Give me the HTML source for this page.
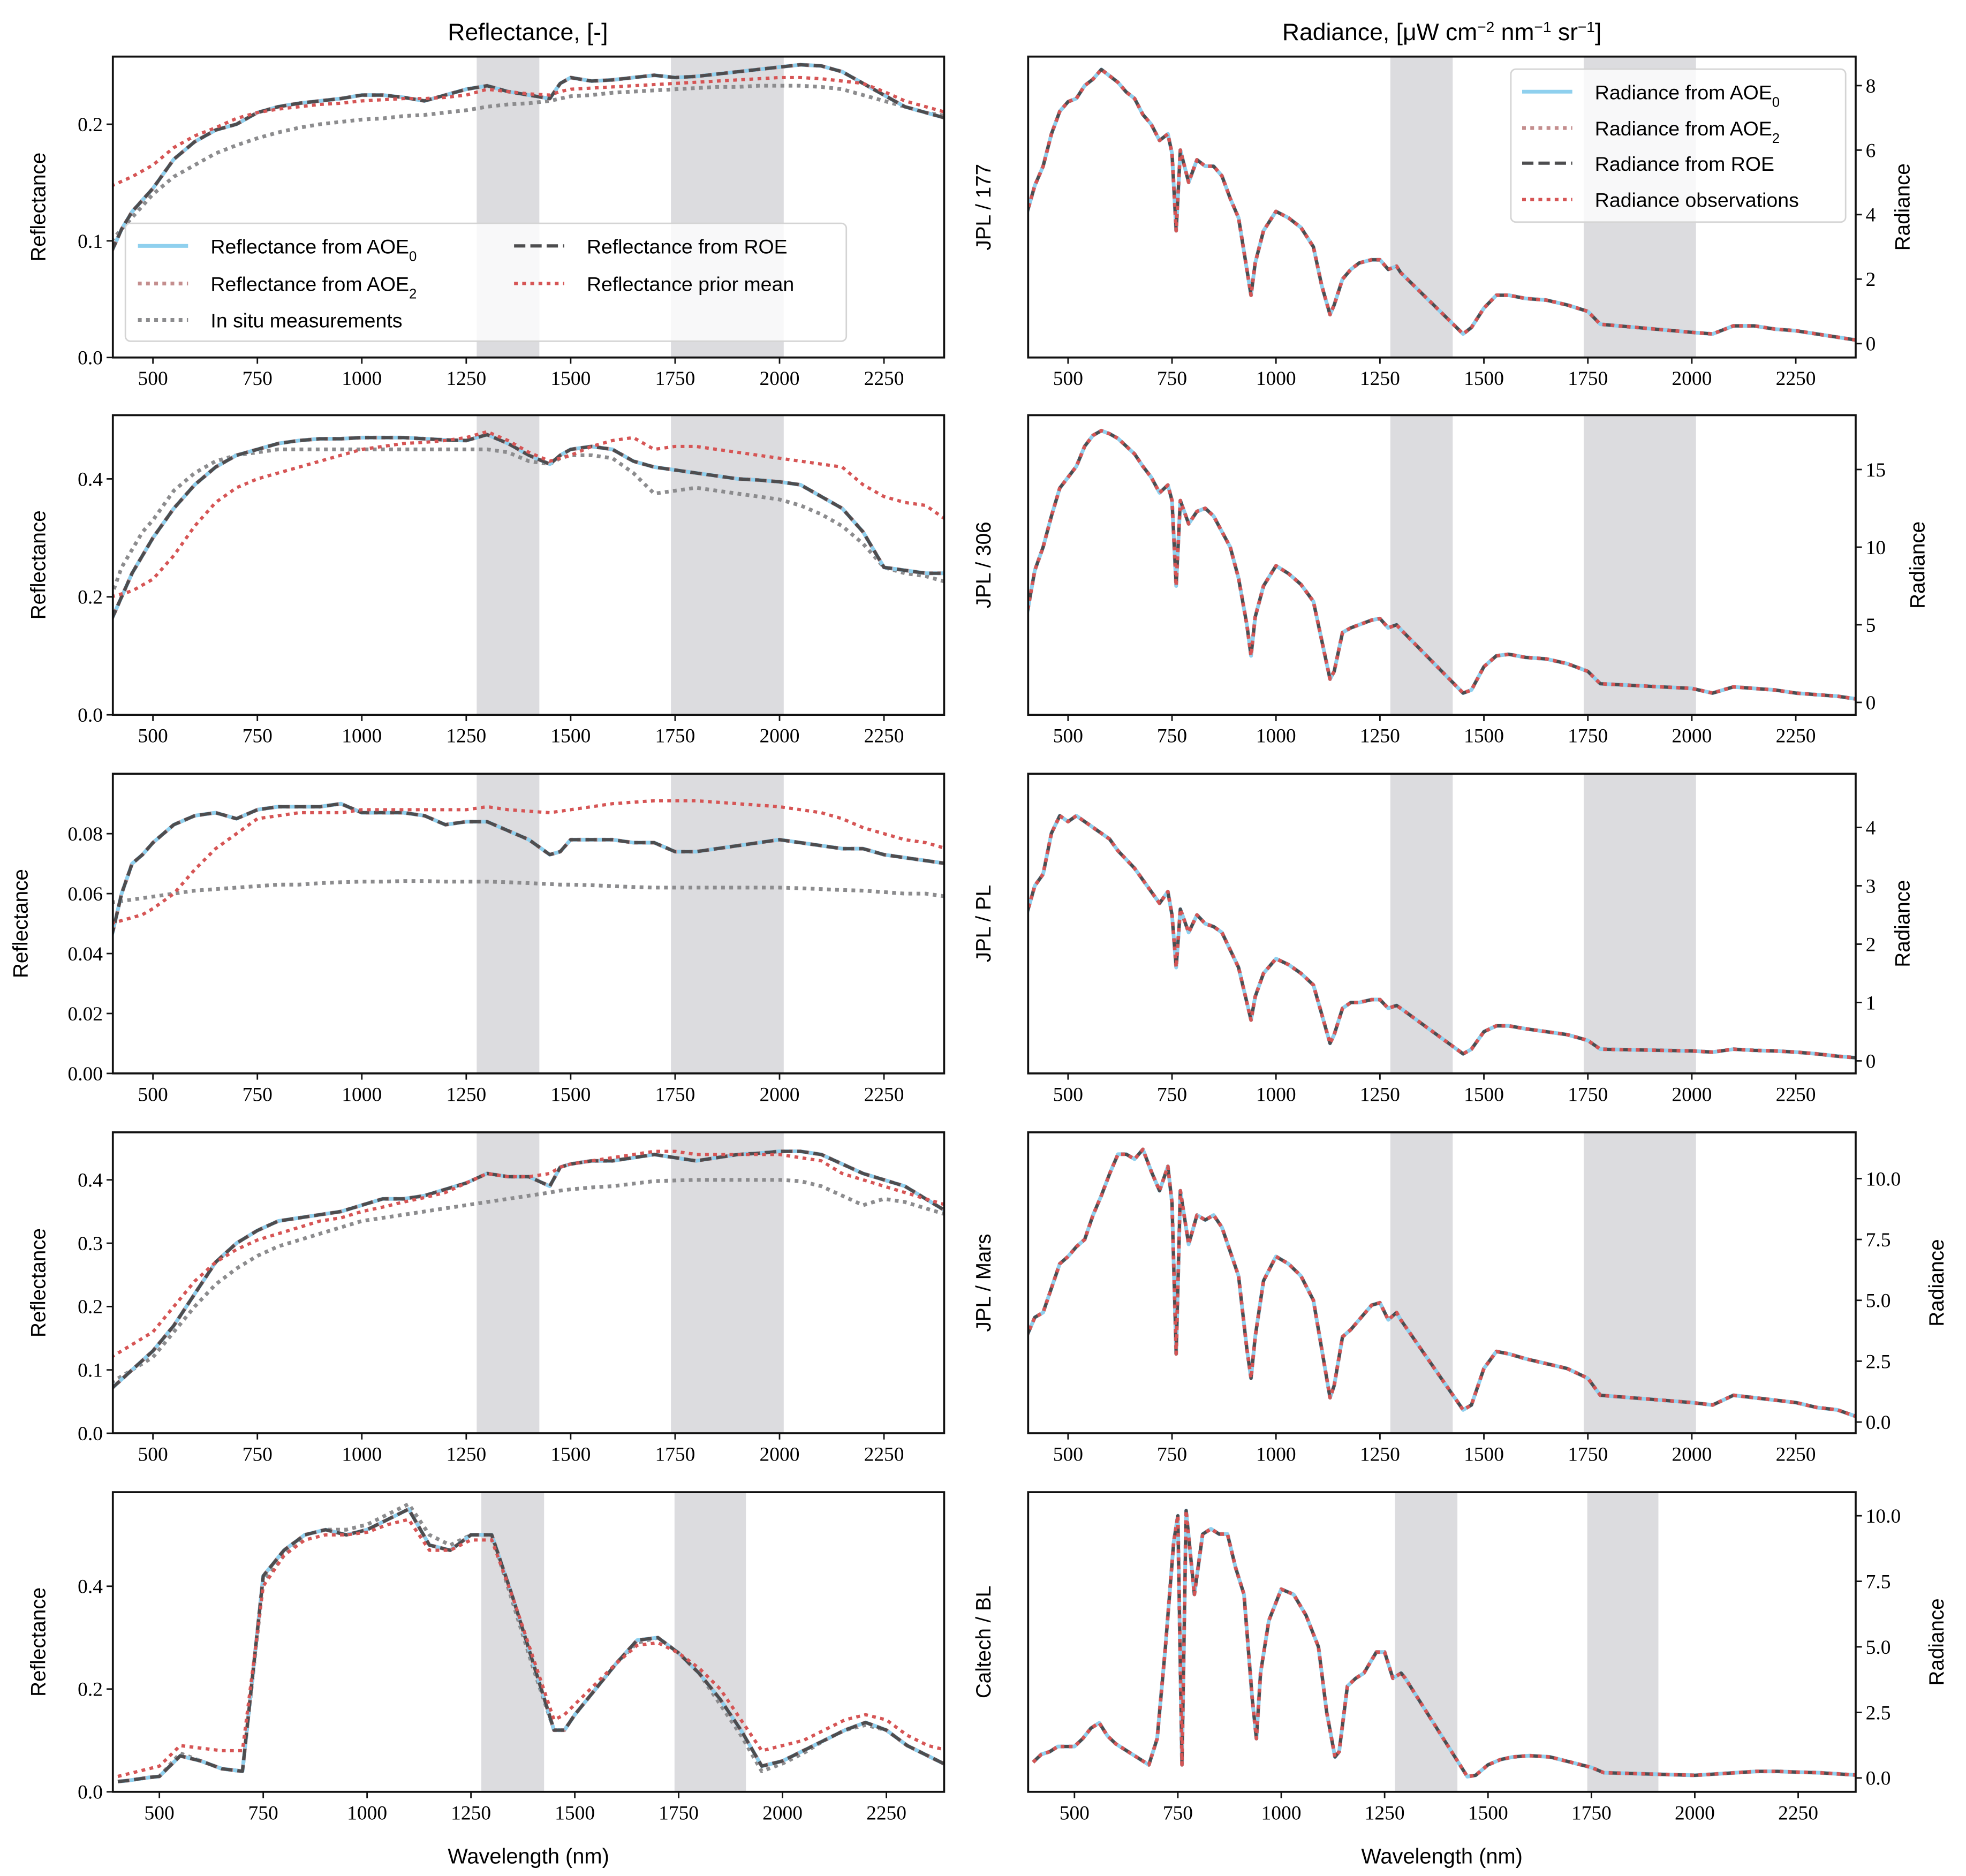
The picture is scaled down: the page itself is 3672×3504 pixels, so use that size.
<!DOCTYPE html>
<html><head><meta charset="utf-8"><style>
html,body{margin:0;padding:0;background:#fff}
svg{display:block;font-family:"Liberation Sans",sans-serif}
</style></head><body>
<svg id="fig" width="3672" height="3504" viewBox="0 0 1568 1496" xmlns="http://www.w3.org/2000/svg">
<rect width="1568" height="1496" fill="#fff"/>
<text x="421" y="32" font-size="19" text-anchor="middle">Reflectance, [-]</text>
<text x="1150" y="32" font-size="19" text-anchor="middle">Radiance, [μW cm<tspan baseline-shift="super" font-size="12">−2</tspan> nm<tspan baseline-shift="super" font-size="12">−1</tspan> sr<tspan baseline-shift="super" font-size="12">−1</tspan>]</text>
</svg>
<script>
// ---- data ----
const wlRefl = [400,425,450,475,500,550,600,650,700,750,800,850,900,950,1000,1050,1100,1150,1200,1250,1300,1350,1400,1450,1475,1500,1550,1600,1650,1700,1750,1800,1850,1900,1950,2000,2050,2100,2150,2200,2250,2300,2350,2400];
const reflRet1 = [0.09,0.11,0.125,0.135,0.145,0.17,0.185,0.195,0.2,0.21,0.215,0.218,0.22,0.222,0.225,0.225,0.223,0.22,0.225,0.23,0.233,0.228,0.225,0.222,0.235,0.24,0.237,0.238,0.24,0.242,0.24,0.241,0.243,0.245,0.247,0.249,0.251,0.25,0.245,0.235,0.225,0.215,0.21,0.205];
const reflSitu1 = [0.1,0.11,0.12,0.13,0.14,0.155,0.165,0.175,0.182,0.188,0.193,0.197,0.2,0.202,0.204,0.205,0.207,0.208,0.21,0.212,0.215,0.217,0.218,0.22,0.222,0.224,0.225,0.227,0.228,0.229,0.23,0.231,0.232,0.232,0.233,0.233,0.233,0.232,0.23,0.225,0.22,0.215,0.21,0.207];
const reflPrior1 = [0.147,0.151,0.155,0.16,0.165,0.18,0.19,0.197,0.205,0.21,0.213,0.215,0.217,0.218,0.22,0.221,0.222,0.222,0.223,0.225,0.23,0.228,0.226,0.225,0.228,0.23,0.231,0.232,0.233,0.234,0.235,0.236,0.237,0.238,0.239,0.24,0.24,0.239,0.237,0.235,0.228,0.22,0.215,0.21];
const reflRet2 = [0.16,0.2,0.24,0.27,0.3,0.35,0.39,0.42,0.44,0.45,0.46,0.465,0.468,0.468,0.47,0.47,0.47,0.468,0.466,0.465,0.475,0.46,0.44,0.425,0.44,0.45,0.455,0.45,0.43,0.42,0.415,0.41,0.405,0.4,0.398,0.395,0.39,0.37,0.35,0.31,0.25,0.245,0.24,0.24];
const reflSitu2 = [0.2,0.25,0.28,0.31,0.33,0.38,0.41,0.43,0.44,0.445,0.45,0.45,0.45,0.45,0.45,0.45,0.45,0.45,0.45,0.45,0.45,0.445,0.43,0.425,0.435,0.44,0.44,0.435,0.41,0.375,0.38,0.385,0.38,0.375,0.37,0.365,0.355,0.34,0.32,0.29,0.25,0.24,0.235,0.225];
const reflPrior2 = [0.2,0.205,0.21,0.22,0.23,0.27,0.32,0.36,0.385,0.4,0.41,0.42,0.43,0.44,0.45,0.455,0.46,0.462,0.465,0.47,0.48,0.465,0.445,0.43,0.435,0.44,0.455,0.465,0.47,0.45,0.455,0.455,0.45,0.445,0.44,0.435,0.43,0.425,0.42,0.39,0.37,0.36,0.355,0.33];
const reflRet3 = [0.045,0.06,0.07,0.073,0.077,0.083,0.086,0.087,0.085,0.088,0.089,0.089,0.089,0.09,0.087,0.087,0.087,0.086,0.083,0.084,0.084,0.081,0.078,0.073,0.074,0.078,0.078,0.078,0.077,0.077,0.074,0.074,0.075,0.076,0.077,0.078,0.077,0.076,0.075,0.075,0.073,0.072,0.071,0.07];
const reflSitu3 = [0.057,0.0575,0.058,0.0585,0.059,0.06,0.061,0.0615,0.062,0.0625,0.063,0.063,0.0635,0.0638,0.064,0.064,0.0642,0.0642,0.064,0.064,0.064,0.0638,0.0635,0.0632,0.063,0.063,0.0628,0.0625,0.0622,0.062,0.062,0.062,0.062,0.062,0.062,0.062,0.0618,0.0615,0.0612,0.061,0.0605,0.06,0.06,0.059];
const reflPrior3 = [0.05,0.051,0.052,0.053,0.055,0.06,0.068,0.075,0.08,0.085,0.086,0.087,0.087,0.087,0.088,0.088,0.088,0.088,0.088,0.088,0.089,0.088,0.0875,0.087,0.0875,0.088,0.089,0.09,0.0905,0.091,0.091,0.091,0.0905,0.09,0.0895,0.089,0.088,0.087,0.085,0.082,0.08,0.078,0.077,0.075];
const reflRet4 = [0.07,0.085,0.1,0.115,0.13,0.17,0.22,0.27,0.3,0.32,0.335,0.34,0.345,0.35,0.36,0.37,0.37,0.375,0.385,0.395,0.41,0.405,0.405,0.39,0.42,0.425,0.43,0.43,0.435,0.44,0.435,0.43,0.435,0.44,0.442,0.445,0.445,0.44,0.425,0.41,0.4,0.39,0.37,0.35];
const reflSitu4 = [0.08,0.09,0.1,0.11,0.12,0.16,0.2,0.235,0.26,0.28,0.295,0.305,0.315,0.325,0.335,0.34,0.345,0.35,0.355,0.36,0.365,0.37,0.375,0.38,0.383,0.385,0.388,0.39,0.394,0.398,0.399,0.4,0.4,0.4,0.4,0.4,0.398,0.39,0.375,0.36,0.37,0.365,0.355,0.345];
const reflPrior4 = [0.12,0.13,0.14,0.15,0.16,0.2,0.24,0.27,0.29,0.305,0.315,0.325,0.335,0.34,0.35,0.357,0.365,0.372,0.38,0.395,0.41,0.405,0.405,0.41,0.42,0.425,0.43,0.435,0.44,0.445,0.445,0.44,0.44,0.44,0.44,0.44,0.435,0.43,0.41,0.4,0.39,0.38,0.37,0.36];
const reflRet5 = [0.02,0.022,0.025,0.028,0.03,0.07,0.06,0.045,0.04,0.42,0.47,0.5,0.51,0.5,0.51,0.53,0.55,0.48,0.47,0.5,0.5,0.38,0.25,0.12,0.12,0.15,0.2,0.25,0.295,0.3,0.27,0.23,0.18,0.12,0.05,0.06,0.08,0.1,0.12,0.135,0.12,0.09,0.07,0.05];
const reflSitu5 = [0.02,0.022,0.025,0.028,0.03,0.075,0.06,0.045,0.04,0.41,0.46,0.5,0.51,0.51,0.52,0.54,0.56,0.5,0.48,0.5,0.5,0.37,0.24,0.12,0.12,0.15,0.2,0.25,0.29,0.3,0.27,0.23,0.17,0.11,0.04,0.055,0.075,0.1,0.12,0.13,0.12,0.09,0.07,0.05];
const reflPrior5 = [0.03,0.035,0.04,0.045,0.05,0.09,0.085,0.08,0.08,0.4,0.46,0.49,0.5,0.5,0.505,0.52,0.53,0.47,0.47,0.49,0.49,0.38,0.26,0.14,0.15,0.17,0.21,0.25,0.285,0.29,0.27,0.24,0.2,0.14,0.08,0.09,0.1,0.12,0.14,0.15,0.14,0.11,0.09,0.08];

const wlRad = [400,420,440,460,480,500,520,540,560,580,600,620,640,660,680,700,720,740,750,760,770,790,810,830,850,870,890,910,930,940,950,970,1000,1030,1060,1090,1110,1130,1140,1160,1180,1200,1230,1250,1270,1290,1300,1450,1470,1500,1530,1560,1600,1650,1700,1750,1780,2000,2050,2100,2150,2200,2250,2300,2350,2400];
const rad1 = [4,4.9,5.5,6.5,7.2,7.5,7.6,8,8.2,8.5,8.3,8.1,7.8,7.6,7.1,6.8,6.3,6.5,5.9,3.5,6.0,5.0,5.7,5.5,5.5,5.2,4.5,3.9,2.3,1.5,2.5,3.5,4.1,3.9,3.6,3.0,1.8,0.9,1.2,2.0,2.3,2.5,2.6,2.6,2.3,2.4,2.2,0.3,0.5,1.1,1.5,1.5,1.4,1.35,1.2,1.0,0.6,0.35,0.3,0.55,0.55,0.45,0.4,0.3,0.2,0.1];
const rad2 = [5.5,8.5,10,12,13.8,14.5,15.2,16.5,17.2,17.5,17.3,17,16.5,16,15.2,14.5,13.5,14,13,7.5,13,11.5,12.3,12.5,12,11,10,8,5,3,5.5,7.5,8.8,8.3,7.6,6.5,4,1.5,2,4.5,4.8,5,5.3,5.4,4.8,5,4.7,0.6,0.8,2.3,3,3.1,2.9,2.8,2.5,2,1.2,0.9,0.6,1,0.9,0.8,0.6,0.5,0.4,0.2];
const rad3 = [2.5,3.0,3.2,3.9,4.2,4.1,4.2,4.1,4.0,3.9,3.8,3.6,3.45,3.3,3.1,2.9,2.7,2.9,2.5,1.6,2.6,2.2,2.5,2.35,2.3,2.2,1.9,1.6,1.0,0.7,1.1,1.5,1.75,1.65,1.5,1.3,0.8,0.3,0.45,0.9,1.0,1.0,1.05,1.05,0.9,0.95,0.9,0.12,0.2,0.5,0.6,0.6,0.55,0.5,0.45,0.35,0.2,0.17,0.15,0.2,0.18,0.17,0.15,0.12,0.08,0.05];
const rad4 = [3.5,4.3,4.5,5.5,6.5,6.8,7.2,7.5,8.5,9.3,10.2,11,11,10.8,11.2,10.3,9.5,10.5,9.0,2.8,9.5,7.3,8.5,8.3,8.5,8,7,6,3,1.8,3.5,5.8,6.8,6.5,6,5,3,1.0,1.5,3.5,3.8,4.2,4.8,4.9,4.2,4.5,4.2,0.5,0.7,2.2,2.9,2.8,2.6,2.4,2.2,1.8,1.1,0.8,0.7,1.1,1.0,0.9,0.8,0.6,0.5,0.2];
const rad5 = [0.6,0.9,1.0,1.2,1.2,1.2,1.5,1.9,2.1,1.6,1.3,1.1,0.9,0.7,0.5,1.5,5,9,10,0.5,10.2,7,9.3,9.5,9.3,9.3,8,7,3,1.5,4,6,7.2,7,6.2,5,2.5,0.8,1,3.5,3.8,4,4.8,4.8,3.8,4.0,3.8,0.05,0.1,0.5,0.7,0.8,0.85,0.8,0.6,0.4,0.2,0.1,0.15,0.2,0.25,0.25,0.22,0.2,0.15,0.1];

const xTicks = [500,750,1000,1250,1500,1750,2000,2250];
const reflTicks = [[0,0.1,0.2],[0,0.2,0.4],[0,0.02,0.04,0.06,0.08],[0,0.1,0.2,0.3,0.4],[0,0.2,0.4]];
const reflTickLabels = [["0.0","0.1","0.2"],["0.0","0.2","0.4"],["0.00","0.02","0.04","0.06","0.08"],["0.0","0.1","0.2","0.3","0.4"],["0.0","0.2","0.4"]];
const radTicks = [[0,2,4,6,8],[0,5,10,15],[0,1,2,3,4],[0,2.5,5,7.5,10],[0,2.5,5,7.5,10]];
const radTickLabels = [["0","2","4","6","8"],["0","5","10","15"],["0","1","2","3","4"],["0.0","2.5","5.0","7.5","10.0"],["0.0","2.5","5.0","7.5","10.0"]];
const siteNames = ["JPL / 177","JPL / 306","JPL / PL","JPL / Mars","Caltech / BL"];
const bands = [[[1275,1425],[1740,2010]],[[1275,1425],[1740,2010]],[[1275,1425],[1740,2010]],[[1275,1425],[1740,2010]],[[1275,1426],[1740,1912]]];

const reflRet=[reflRet1,reflRet2,reflRet3,reflRet4,reflRet5];
const reflSitu=[reflSitu1,reflSitu2,reflSitu3,reflSitu4,reflSitu5];
const reflPrior=[reflPrior1,reflPrior2,reflPrior3,reflPrior4,reflPrior5];
const rads=[rad1,rad2,rad3,rad4,rad5];

// ---- layout ----
const NS="http://www.w3.org/2000/svg";
const svg=document.getElementById('fig');
const tops=[45,331,617,903,1190], bots=[285,570,856,1143,1429];
const xDom=[[404,2394],[404,2394],[404,2394],[404,2394],[388,2389]];
const reflDom=[[0,0.258],[0,0.508],[0,0.1],[0,0.475],[0,0.583]];
const radDom=[[-0.43,8.9],[-0.8,18.5],[-0.215,4.92],[-0.46,11.9],[-0.53,10.9]];
const radLabX=[1523,1535,1523,1550,1550];
function mk(tag,attrs,parent){const e=document.createElementNS(NS,tag);for(const k in attrs)e.setAttribute(k,attrs[k]);(parent||svg).appendChild(e);return e;}
function scale(d,r){return v=>r[0]+(v-d[0])/(d[1]-d[0])*(r[1]-r[0]);}
const C={blue:"#8fd0ee",rose:"#c48e8e",dark:"#4d4d4f",grey:"#8c8c8e",red:"#d65555",band:"#dcdcdf"};
const TF='"Liberation Serif",serif';

function panel(i,side){
  const x0=side===0?90:820, x1=side===0?753:1480, y0=tops[i], y1=bots[i];
  const sx=scale(xDom[i],[x0,x1]);
  const dom=side===0?reflDom[i]:radDom[i];
  const sy=scale(dom,[y1,y0]);
  const g=mk('g',{});
  
  
  const cid='clip'+side+i;
  const cp=mk('clipPath',{id:cid},g); mk('rect',{x:x0,y:y0,width:x1-x0,height:y1-y0},cp);
  bands[i].forEach((b,k)=>{const r=mk('rect',{x:sx(b[0]),y:y0,width:sx(b[1])-sx(b[0]),height:y1-y0,fill:C.band},g);
    
    });
  const lg=mk('g',{'clip-path':'url(#'+cid+')'},g);
  function line(xs,ys,stroke,w,dash,name){
    const d=xs.map((x,j)=>(j?'L':'M')+sx(x).toFixed(2)+' '+sy(ys[j]).toFixed(2)).join('');
    const p=mk('path',{d:d,fill:'none',stroke:stroke,'stroke-width':w,'stroke-dasharray':dash||'none','stroke-linejoin':'round'},lg);
    
    
  }
  if(side===0){
    line(wlRefl,reflSitu[i],C.grey,3,'3 3.5','in-situ-line');
    line(wlRefl,reflRet[i],C.blue,3,null,'reflectance-aoe0-line');
    line(wlRefl,reflRet[i],C.rose,3,'3 3.5','reflectance-aoe2-line');
    line(wlRefl,reflRet[i],C.dark,2.6,'9 4','reflectance-roe-line');
    line(wlRefl,reflPrior[i],C.red,2.6,'3 3.5','reflectance-prior-line');
  } else {
    line(wlRad,rads[i],C.blue,3,null,'radiance-aoe0-line');
    line(wlRad,rads[i],C.rose,3,'3 3.5','radiance-aoe2-line');
    line(wlRad,rads[i],C.dark,2.6,'9 4','radiance-roe-line');
    line(wlRad,rads[i],C.red,2.6,'3 3.5','radiance-observations-line');
  }
  const fr=mk('rect',{x:x0,y:y0,width:x1-x0,height:y1-y0,fill:'none',stroke:'#111','stroke-width':1.6},g);
  
  
  xTicks.forEach(t=>{const X=sx(t);mk('line',{x1:X,x2:X,y1:y1,y2:y1+5,stroke:'#111','stroke-width':1.2},g);
    const tx=mk('text',{x:X,y:y1+22,'font-size':16,'text-anchor':'middle','font-family':TF},g);tx.textContent=t;
    
    });
  const ticks=side===0?reflTicks[i]:radTicks[i], labs=side===0?reflTickLabels[i]:radTickLabels[i];
  ticks.forEach((t,k)=>{const Y=sy(t);
    if(side===0){mk('line',{x1:x0-5,x2:x0,y1:Y,y2:Y,stroke:'#111','stroke-width':1.2},g);
      const tx=mk('text',{x:x0-8,y:Y+5.5,'font-size':16,'text-anchor':'end','font-family':TF},g);tx.textContent=labs[k];
      
      }
    else{mk('line',{x1:x1,x2:x1+5,y1:Y,y2:Y,stroke:'#111','stroke-width':1.2},g);
      const tx=mk('text',{x:x1+8,y:Y+5.5,'font-size':16,'text-anchor':'start','font-family':TF},g);tx.textContent=labs[k];
      
      }
  });
  const cy=(y0+y1)/2;
  if(side===0){
    const lx=i===2?22:36;
    const t=mk('text',{x:lx,y:cy,'font-size':16.5,'text-anchor':'middle',transform:`rotate(-90 ${lx} ${cy})`},g);t.textContent='Reflectance';
    
    
  } else {
    const t=mk('text',{x:790,y:cy,'font-size':16.5,'text-anchor':'middle',transform:`rotate(-90 790 ${cy})`},g);t.textContent=siteNames[i];
    
    
    const rx=radLabX[i];
    const t2=mk('text',{x:rx,y:cy,'font-size':16.5,'text-anchor':'middle',transform:`rotate(-90 ${rx} ${cy})`},g);t2.textContent='Radiance';
    
    
  }
  if(i===4){const t=mk('text',{x:(x0+x1)/2,y:1486,'font-size':17,'text-anchor':'middle'},g);t.textContent='Wavelength (nm)';
    
    }
}
for(let i=0;i<5;i++){panel(i,0);panel(i,1);}

function legend(bx,by,bw,bh,items,name){
  const g=mk('g',{});
  
  
  mk('rect',{x:bx,y:by,width:bw,height:bh,rx:4,fill:'#fff','fill-opacity':0.8,stroke:'#d4d4d4','stroke-width':1.2},g);
  items.forEach(it=>{
    mk('line',{x1:it[0],x2:it[0]+40,y1:it[1],y2:it[1],stroke:it[3],'stroke-width':it[4],'stroke-dasharray':it[5]||'none'},g);
    const t=mk('text',{x:it[0]+58,y:it[1]+6,'font-size':16},g);
    t.innerHTML=it[2];
    
    
  });
}
const sub=n=>`<tspan baseline-shift="sub" font-size="11">${n}</tspan>`;
legend(100,178,575,94,[
  [110,196,'Reflectance from AOE'+sub(0),C.blue,3,null],
  [110,226,'Reflectance from AOE'+sub(2),C.rose,3,'3 3.5'],
  [110,255,'In situ measurements',C.grey,3,'3 3.5'],
  [410,196,'Reflectance from ROE',C.dark,2.6,'9 4'],
  [410,226,'Reflectance prior mean',C.red,2.6,'3 3.5']
],'reflectance-legend');
legend(1205,55,267,122,[
  [1214,73,'Radiance from AOE'+sub(0),C.blue,3,null],
  [1214,102,'Radiance from AOE'+sub(2),C.rose,3,'3 3.5'],
  [1214,130,'Radiance from ROE',C.dark,2.6,'9 4'],
  [1214,159,'Radiance observations',C.red,2.6,'3 3.5']
],'radiance-legend');
</script>
</body></html>
